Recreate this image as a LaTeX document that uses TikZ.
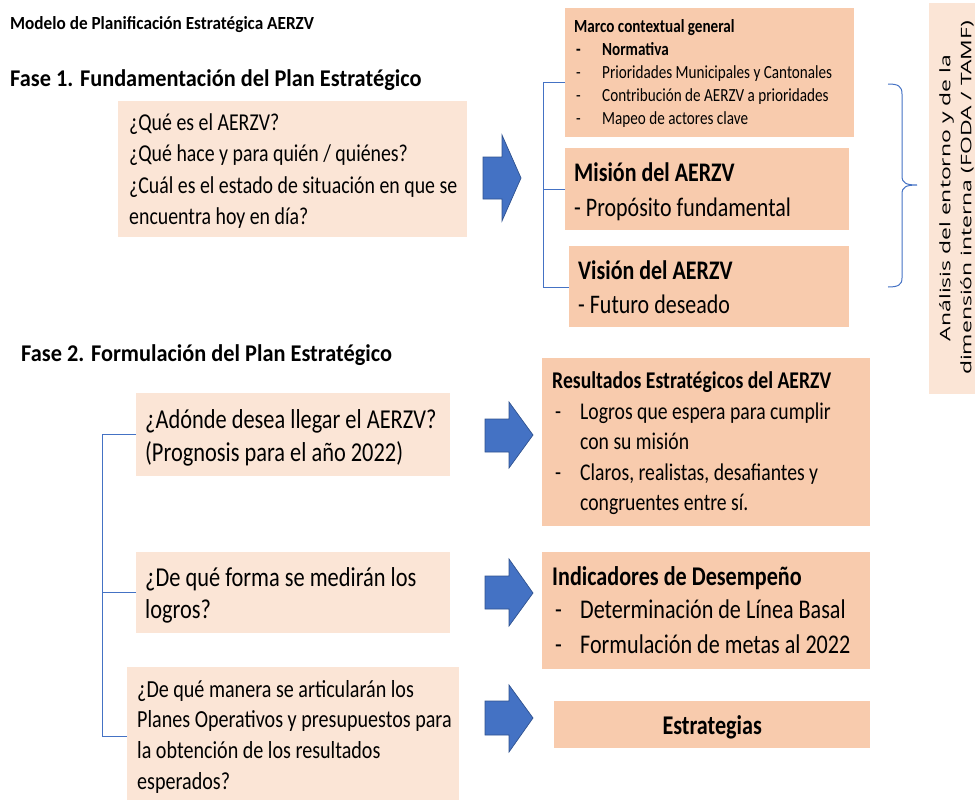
\documentclass[tikz,border=0pt]{standalone}
\usepackage{fontspec}
\setmainfont{Carlito}[FakeStretch=0.82]
\newfontfamily\hfont{Carlito}[FakeStretch=0.93]
\newfontfamily\osans{Open Sans}[FakeStretch=1.58]
\definecolor{peach}{HTML}{F8CBAD}
\definecolor{peachlt}{HTML}{FBE5D6}
\definecolor{blu}{HTML}{4472C4}
\definecolor{bludk}{HTML}{2F528F}
\newcommand\sk{\spaceskip=0pt\xspaceskip=0pt\relax}
\newcommand\bt[1]{{\bfseries #1}}
\begin{document}
\begin{tikzpicture}[x=1pt,y=-1pt,
  darkbox/.style={fill=peach, draw=none, inner sep=0, anchor=north west},
  lightbox/.style={fill=peachlt, draw=none, inner sep=0, anchor=north west},
  txt/.style={inner sep=0, anchor=base west},
  mtxt/.style={inner sep=0, anchor=base west, text width=420pt, align=left},
  bline/.style={draw=blu, line width=1pt},
  barrow/.style={fill=blu, draw=bludk, line width=0.7pt, line join=miter}
]
\useasboundingbox (0,0) rectangle (975,800);

% titles
\node[txt, font=\hfont\bfseries\fontsize{18.5}{22}\selectfont] (title) at (10,30) {Modelo de Planificación Estratégica AERZV};
\node[txt, font=\hfont\bfseries\fontsize{24}{28}\selectfont] (fase1) at (10,86) {Fase 1. Fundamentación del Plan Estratégico};
\node[txt, font=\hfont\bfseries\fontsize{24}{28}\selectfont] (fase2) at (21,361) {Fase 2. Formulación del Plan Estratégico};

% phase 1 question box
\node[lightbox, minimum width=349, minimum height=136] (q1) at (118,101) {};
\node[mtxt, font=\fontsize{24.2}{31.6}\selectfont] (q1t) at (129,130) {\sk ¿Qué es el AERZV?\\¿Qué hace y para quién / quiénes?\\¿Cuál es el estado de situación en que se\\encuentra hoy en día?};

% arrow 1
\draw[barrow] (483,157) -- (502,157) -- (502,135) -- (521,178) -- (502,221) -- (502,199) -- (483,199) -- cycle;

% right column phase 1
\node[darkbox, minimum width=289, minimum height=129] (marco) at (565,8) {};
\node[mtxt, font=\fontsize{18.5}{23}\selectfont] (marcot) at (574,33) {\sk\textbf{Marco contextual general}\\
\hspace*{2pt}\makebox[26pt][l]{\textbf{-}}\textbf{Normativa}\\
\hspace*{2pt}\makebox[26pt][l]{-}Prioridades Municipales y Cantonales\\
\hspace*{2pt}\makebox[26pt][l]{-}Contribución de AERZV a prioridades\\
\hspace*{2pt}\makebox[26pt][l]{-}Mapeo de actores clave};

\node[darkbox, minimum width=284, minimum height=82] (mision) at (565,148) {};
\node[mtxt, font=\fontsize{26.8}{35}\selectfont] (misiont) at (574,181) {\sk\bt{Misión del AERZV}\\- Propósito fundamental};

\node[darkbox, minimum width=280, minimum height=81] (vision) at (569,246) {};
\node[mtxt, font=\fontsize{26.8}{34}\selectfont] (visiont) at (578,279) {\sk\bt{Visión del AERZV}\\- Futuro deseado};

% left bracket phase 1
\coordinate (b1) at (543,83);
\coordinate (b3) at (543,287);
\draw[bline] (marco.west |- b1) -- (b1) -- (b3) -- (vision.west |- b3);
\draw[bline] (mision.west) -- (mision.west -| b1);

% right brace
\coordinate (r1) at (888,84);
\coordinate (rt) at (917,185);
\coordinate (r2) at (888,287);
\draw[bline] (r1) .. controls (898,84) and (902,86) .. (902,94) -- (902,176)
  .. controls (902,183) and (906,185) .. (rt)
  .. controls (906,185) and (902,187) .. (902,194) -- (902,278)
  .. controls (902,285) and (898,287) .. (r2);

% rotated box
\node[lightbox, minimum width=70, minimum height=391] (rot) at (929,3) {};
\node[inner sep=0, rotate=90, align=center, font=\osans\fontsize{14.5}{21}\selectfont] (rott) at (956.5,198) {Análisis del entorno y de la\\dimensión interna (FODA / TAMF)};

% phase 2 question boxes
\node[lightbox, minimum width=314, minimum height=83] (qa) at (136,393) {};
\node[mtxt, font=\fontsize{27.3}{33}\selectfont] (qat) at (145,428) {\sk ¿Adónde desea llegar el AERZV?\\(Prognosis para el año 2022)};

\node[lightbox, minimum width=314, minimum height=81] (qb) at (136,552) {};
\node[mtxt, font=\fontsize{27.3}{32}\selectfont] (qbt) at (145,586) {\sk ¿De qué forma se medirán los\\logros?};

\node[lightbox, minimum width=332, minimum height=140] (qc) at (127,667) {};
\node[mtxt, font=\fontsize{24.5}{30.7}\selectfont] (qct) at (137,697) {\sk ¿De qué manera se articularán los\\Planes Operativos y presupuestos para\\la obtención de los resultados\\esperados?};

% left bracket phase 2
\coordinate (c1) at (102,435);
\coordinate (c3) at (102,736);
\draw[bline] (qa.west) -- (qa.west -| c1) -- (c3) -- (qc.west |- c3);
\draw[bline] (qb.west) -- (qb.west -| c1);

% arrows phase 2
\draw[barrow] (485,419) -- (509,419) -- (509,402) -- (533,435) -- (509,468) -- (509,452) -- (485,452) -- cycle;
\draw[barrow] (485,576) -- (509,576) -- (509,559) -- (533,593) -- (509,626) -- (509,609) -- (485,609) -- cycle;
\draw[barrow] (485,701) -- (509,701) -- (509,685) -- (533,718) -- (509,752) -- (509,735) -- (485,735) -- cycle;

% results column
\node[darkbox, minimum width=328, minimum height=168] (res) at (542,358) {};
\node[mtxt, font=\fontsize{24}{30.5}\selectfont] (rest) at (552,388.5) {\sk\textbf{Resultados Estratégicos del AERZV}\\
\hspace*{3pt}\makebox[25pt][l]{-}Logros que espera para cumplir\\
\hspace*{28pt}con su misión\\
\hspace*{3pt}\makebox[25pt][l]{-}Claros, realistas, desafiantes y\\
\hspace*{28pt}congruentes entre sí.};

\node[darkbox, minimum width=328, minimum height=117] (ind) at (542,552) {};
\node[txt, font=\bfseries\fontsize{27}{33}\selectfont] (indt) at (552,585) {Indicadores de Desempeño};
\node[mtxt, font=\fontsize{27}{35}\selectfont] (indi) at (552,618) {\sk\hspace*{3pt}\makebox[25pt][l]{-}Determinación de Línea Basal\\
\hspace*{3pt}\makebox[25pt][l]{-}Formulación de metas al 2022};

\node[darkbox, minimum width=316, minimum height=47] (estr) at (554,701) {};
\node[inner sep=0, font=\bfseries\fontsize{27}{33}\selectfont] (estrt) at ([yshift=-3pt]estr.center) {Estrategias};
\end{tikzpicture}
\end{document}
